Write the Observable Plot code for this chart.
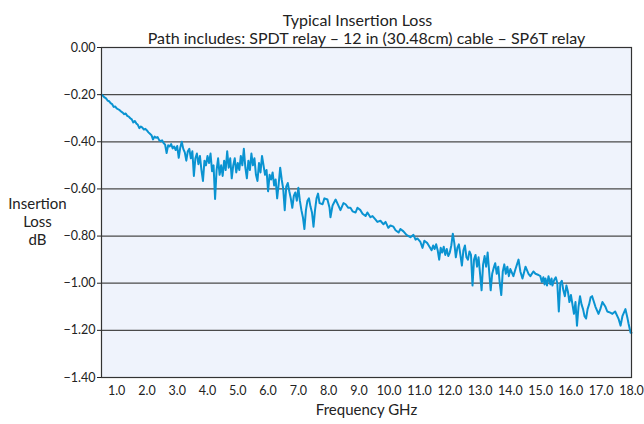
<!DOCTYPE html>
<html>
<head>
<meta charset="utf-8">
<script src="https://cdn.jsdelivr.net/npm/d3@7"></script>
<script src="https://cdn.jsdelivr.net/npm/@observablehq/plot@0.6"></script>
<style>
  html, body { margin: 0; padding: 0; background: #ffffff; }
  #chart svg { display: block; }
</style>
</head>
<body>
<div id="chart"></div>
<script>
const titleText = "Typical Insertion Loss";
const subtitleText = "Path includes: SPDT relay \u2013 12 in (30.48cm) cable \u2013 SP6T relay";
const yLabelText = "Insertion\nLoss\ndB";
const xLabelText = "Frequency GHz";

const yTicks = [0, -0.2, -0.4, -0.6, -0.8, -1.0, -1.2, -1.4];
const gridValues = [-0.2, -0.4, -0.6, -0.8, -1.0, -1.2];
const xTicks = [1, 2, 3, 4, 5, 6, 7, 8, 9, 10, 11, 12, 13, 14, 15, 16, 17, 18];

// [frequency GHz, insertion loss dB]
const sweepLow = [
[0.50,-0.200],[0.55,-0.205],[0.60,-0.212],[0.65,-0.216],[0.70,-0.225],[0.75,-0.228],[0.80,-0.236],[0.85,-0.240],
[0.90,-0.252],[0.95,-0.250],[1.00,-0.258],[1.05,-0.262],[1.10,-0.266],[1.15,-0.272],[1.20,-0.276],[1.25,-0.283],
[1.30,-0.280],[1.35,-0.290],[1.40,-0.293],[1.45,-0.300],[1.50,-0.305],[1.55,-0.318],[1.60,-0.312],[1.65,-0.322],
[1.70,-0.328],[1.75,-0.342],[1.80,-0.335],[1.85,-0.340],[1.90,-0.348],[1.95,-0.345],[2.00,-0.352],[2.05,-0.360],
[2.10,-0.366],[2.15,-0.372],[2.20,-0.390],[2.25,-0.378],[2.30,-0.383],[2.35,-0.380],[2.40,-0.392],[2.45,-0.398],
[2.50,-0.394],[2.55,-0.405],[2.60,-0.412],[2.65,-0.448],[2.70,-0.415],[2.75,-0.420],[2.80,-0.410],[2.85,-0.428],
[2.90,-0.420],[2.95,-0.435],[3.00,-0.418],[3.05,-0.468],[3.10,-0.425],[3.15,-0.400],[3.20,-0.430],[3.25,-0.445],
[3.30,-0.480],[3.35,-0.440]
];

const sweepNoisyA = [
[3.40,-0.430],[3.45,-0.470],[3.50,-0.440],[3.55,-0.545],[3.60,-0.470],[3.65,-0.450],[3.70,-0.495],[3.75,-0.460],
[3.80,-0.520],[3.85,-0.566],[3.90,-0.480],[3.95,-0.500],[4.00,-0.460],[4.05,-0.490],[4.10,-0.450],[4.15,-0.525],
[4.20,-0.500],[4.25,-0.643],[4.30,-0.520],[4.35,-0.470],[4.40,-0.540],[4.45,-0.500],[4.50,-0.545],[4.55,-0.480],
[4.60,-0.520],[4.65,-0.440],[4.70,-0.510],[4.75,-0.470],[4.80,-0.555],[4.85,-0.500],[4.90,-0.470],[4.95,-0.530],
[5.00,-0.490],[5.05,-0.520],[5.10,-0.460],[5.15,-0.500],[5.20,-0.430],[5.25,-0.510],[5.30,-0.555],[5.35,-0.480],
[5.40,-0.520],[5.45,-0.450],[5.50,-0.500],[5.55,-0.470],[5.60,-0.540],[5.65,-0.566],[5.70,-0.490],[5.75,-0.530],
[5.80,-0.460],[5.85,-0.500],[5.90,-0.540],[5.95,-0.520],[6.00,-0.610],[6.05,-0.540],[6.10,-0.560],[6.15,-0.530],
[6.20,-0.585],[6.25,-0.560],[6.30,-0.640],[6.35,-0.580],[6.40,-0.510],[6.45,-0.560],[6.50,-0.600],[6.55,-0.690],
[6.60,-0.590],[6.65,-0.575],[6.70,-0.610],[6.75,-0.640],[6.80,-0.680],[6.85,-0.630],[6.90,-0.615],[6.95,-0.650],
[7.00,-0.595],[7.05,-0.650],[7.10,-0.690],[7.15,-0.720],[7.20,-0.770],[7.25,-0.690],[7.30,-0.650],[7.35,-0.640],
[7.40,-0.675],[7.45,-0.700],[7.50,-0.760],[7.55,-0.690],[7.60,-0.640],[7.65,-0.620],[7.70,-0.660]
];

const sweepMid = [
[7.80,-0.665],[7.86,-0.640],[7.96,-0.645],[8.03,-0.680],[8.06,-0.720],[8.13,-0.670],[8.23,-0.645],[8.32,-0.670],
[8.39,-0.690],[8.49,-0.660],[8.56,-0.665],[8.65,-0.680],[8.72,-0.680],[8.79,-0.695],[8.89,-0.700],[8.95,-0.680],
[9.05,-0.690],[9.12,-0.705],[9.22,-0.715],[9.28,-0.700],[9.38,-0.720],[9.45,-0.715],[9.55,-0.730],[9.61,-0.740],
[9.71,-0.735],[9.81,-0.750],[9.88,-0.740],[9.97,-0.765],[10.04,-0.755],[10.14,-0.760],[10.21,-0.775],[10.31,-0.785],
[10.37,-0.770],[10.47,-0.780],[10.57,-0.795],[10.64,-0.800],[10.70,-0.805],[10.80,-0.795],[10.87,-0.815],[10.93,-0.810],
[11.03,-0.825],[11.10,-0.850],[11.16,-0.820],[11.26,-0.830],[11.33,-0.845]
];

const sweepNoisyB = [
[11.40,-0.860],[11.45,-0.840],[11.50,-0.855],[11.55,-0.835],[11.60,-0.860],[11.65,-0.900],[11.70,-0.850],[11.75,-0.870],
[11.80,-0.845],[11.85,-0.880],[11.90,-0.855],[11.95,-0.885],[12.00,-0.870],[12.05,-0.840],[12.10,-0.790],[12.15,-0.830],
[12.20,-0.890],[12.25,-0.850],[12.30,-0.835],[12.35,-0.880],[12.40,-0.925],[12.45,-0.860],[12.50,-0.840],[12.55,-0.890],
[12.60,-0.900],[12.65,-0.865],[12.70,-0.880],[12.75,-1.010],[12.80,-0.900],[12.85,-0.880],[12.90,-0.930],[12.95,-0.890],
[13.00,-0.960],[13.05,-1.030],[13.10,-0.920],[13.15,-0.885],[13.20,-0.930],[13.25,-0.870],[13.30,-0.950],[13.35,-1.030],
[13.40,-0.960],[13.45,-0.935],[13.50,-0.915],[13.55,-0.960],[13.60,-0.930],[13.65,-1.000],[13.70,-1.050],[13.75,-0.950],
[13.80,-0.920],[13.85,-0.960],[13.90,-0.930],[13.95,-0.970],[14.00,-0.940]
];

const sweepShelf = [
[14.10,-0.970],[14.17,-0.940],[14.27,-0.900],[14.33,-0.950],[14.40,-0.980],[14.50,-0.930],[14.60,-0.960],[14.66,-0.970],
[14.76,-0.950],[14.83,-0.960],[14.93,-0.965],[14.99,-0.970],[15.04,-0.995],[15.09,-0.975],[15.13,-1.005],[15.16,-0.980],
[15.21,-1.010],[15.26,-0.970],[15.32,-1.005],[15.36,-0.980],[15.39,-1.010],[15.45,-0.985]
];

const sweepHigh = [
[15.50,-0.975],[15.55,-1.000],[15.60,-1.120],[15.65,-1.000],[15.70,-0.990],[15.75,-1.030],[15.80,-1.055],[15.85,-1.010],
[15.90,-1.035],[15.95,-1.080],[16.00,-1.050],[16.05,-1.090],[16.10,-1.130],[16.15,-1.080],[16.20,-1.180],[16.25,-1.100],
[16.30,-1.055],[16.35,-1.090],[16.40,-1.110],[16.45,-1.140],[16.50,-1.150],[16.55,-1.110],[16.60,-1.090],[16.65,-1.060],
[16.70,-1.055],[16.81,-1.100],[16.91,-1.130],[16.97,-1.110],[17.04,-1.080],[17.14,-1.100],[17.20,-1.120],[17.30,-1.125],
[17.37,-1.130],[17.46,-1.120],[17.57,-1.150],[17.64,-1.180],[17.70,-1.140],[17.80,-1.110],[17.87,-1.150],[17.90,-1.170],
[17.97,-1.210],[18.00,-1.210]
];

const data = [...sweepLow, ...sweepNoisyA, ...sweepMid, ...sweepNoisyB, ...sweepShelf, ...sweepHigh]
  .map(([f, v]) => ({f, v}));

const fontFam = "Lato, 'Open Sans', sans-serif";

const chart = Plot.plot({
  width: 644,
  height: 424,
  marginLeft: 101,
  marginRight: 13,
  marginTop: 47,
  marginBottom: 47,
  style: {fontFamily: fontFam, fontSize: "12.5px", color: "#222", background: "#ffffff"},
  x: {domain: [0.5, 18], type: "linear"},
  y: {domain: [-1.4, 0]},
  marks: [
    Plot.frame({fill: "#eff3fc", stroke: null}),
    Plot.ruleY(gridValues, {stroke: "#4a4a4a", strokeWidth: 1.3}),
    Plot.line(data, {x: "f", y: "v", stroke: "#0a93d1", strokeWidth: 2, strokeLinejoin: "round"}),
    Plot.frame({stroke: "#333", strokeWidth: 1.2}),
    Plot.axisY({ticks: yTicks, tickFormat: d3.format(".2f"), tickSize: 4, tickPadding: 2, label: null, fontSize: 12.5}),
    Plot.axisX({ticks: xTicks, tickFormat: d3.format(".1f"), tickSize: 0, tickPadding: 9, label: null, fontSize: 12.5}),
    Plot.text([titleText], {frameAnchor: "top", dx: -9, dy: -33, fontSize: 16, fill: "#222"}),
    Plot.text([subtitleText], {frameAnchor: "top", dy: -15, fontSize: 16, fill: "#222"}),
    Plot.text([xLabelText], {frameAnchor: "bottom", dy: 37, fontSize: 15, fill: "#222"}),
    Plot.text([yLabelText], {frameAnchor: "left", dx: -64, dy: 9, fontSize: 15, lineHeight: 1.2, textAnchor: "middle", fill: "#222"})
  ]
});
document.getElementById("chart").appendChild(chart);
</script>
</body>
</html>
